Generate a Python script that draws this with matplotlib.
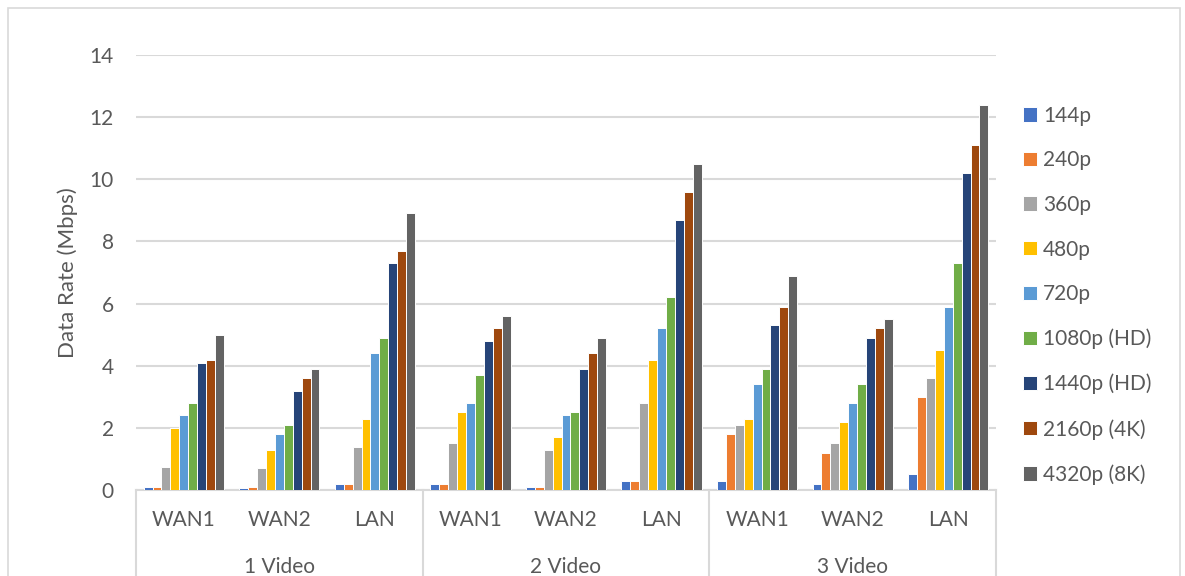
import numpy as np
import matplotlib.pyplot as plt
from matplotlib.patches import Rectangle
from matplotlib.lines import Line2D

plt.rcParams["font.family"] = ["Lato", "DejaVu Sans"]

# Category layout: three video counts, each measured over three links
videos = ["1 Video", "2 Video", "3 Video"]
links = ["WAN1", "WAN2", "LAN"]

resolutions = ["144p", "240p", "360p", "480p", "720p",
               "1080p (HD)", "1440p (HD)", "2160p (4K)", "4320p (8K)"]

# Data rate in Mbps per resolution, ordered as
# 1 Video WAN1, WAN2, LAN, 2 Video WAN1, WAN2, LAN, 3 Video WAN1, WAN2, LAN
rate_144p = [0.1, 0.08, 0.2, 0.2, 0.1, 0.3, 0.3, 0.2, 0.5]
rate_240p = [0.1, 0.09, 0.2, 0.2, 0.1, 0.3, 1.8, 1.2, 3.0]
rate_360p = [0.75, 0.7, 1.4, 1.5, 1.3, 2.8, 2.1, 1.5, 3.6]
rate_480p = [2.0, 1.3, 2.3, 2.5, 1.7, 4.2, 2.3, 2.2, 4.5]
rate_720p = [2.4, 1.8, 4.4, 2.8, 2.4, 5.2, 3.4, 2.8, 5.9]
rate_1080p = [2.8, 2.1, 4.9, 3.7, 2.5, 6.2, 3.9, 3.4, 7.3]
rate_1440p = [4.1, 3.2, 7.3, 4.8, 3.9, 8.7, 5.3, 4.9, 10.2]
rate_2160p = [4.2, 3.6, 7.7, 5.2, 4.4, 9.6, 5.9, 5.2, 11.1]
rate_4320p = [5.0, 3.9, 8.9, 5.6, 4.9, 10.5, 6.9, 5.5, 12.4]

series = [rate_144p, rate_240p, rate_360p, rate_480p, rate_720p,
          rate_1080p, rate_1440p, rate_2160p, rate_4320p]
colors = ["#4472C4", "#ED7D31", "#A5A5A5", "#FFC000", "#5B9BD5",
          "#70AD47", "#264478", "#9E480E", "#636363"]

text_color = "#595959"
grid_color = "#D9D9D9"
fs = 15

fig = plt.figure(figsize=(11.85, 5.76), dpi=100)
ax = fig.add_axes([136 / 1185, 1 - 490 / 576, 860 / 1185, 435 / 576])

# chart frame (runs off the bottom edge)
fig.patches.append(Rectangle((8 / 1185, -0.2), 1172 / 1185, 1.2 - 8 / 576,
                             transform=fig.transFigure, fill=False,
                             edgecolor=grid_color, linewidth=1.2))

n_cat = len(videos) * len(links)
x = np.arange(n_cat)
group_w = 0.84
slot = group_w / len(series)
for i, (vals, color, name) in enumerate(zip(series, colors, resolutions)):
    offs = -group_w / 2 + slot * (i + 0.5)
    ax.bar(x + offs, vals, width=slot, color=color, edgecolor="white",
           linewidth=0.7, label=name, zorder=3)

ax.set_xlim(-0.5, n_cat - 0.5)
ax.set_ylim(0, 14)
ax.set_yticks(np.arange(0, 15, 2))
ax.yaxis.grid(True, color=grid_color, linewidth=1.5, zorder=0)
ax.set_axisbelow(True)
ax.tick_params(axis="y", length=0, labelsize=fs, colors=text_color, pad=16)
ax.set_xticks([])
for side in ["top", "right", "left"]:
    ax.spines[side].set_visible(False)
ax.spines["bottom"].set_color(grid_color)
ax.spines["bottom"].set_linewidth(1.5)
ax.set_ylabel("Data Rate (Mbps)", fontsize=16, color=text_color, labelpad=8)

# two-level category axis
xt = ax.get_xaxis_transform()
for k in range(n_cat):
    ax.text(x[k], -0.069, links[k % len(links)], transform=xt, ha="center",
            va="center", fontsize=fs, color=text_color)
for g, name in enumerate(videos):
    ax.text(g * len(links) + 1, -0.177, name, transform=xt, ha="center",
            va="center", fontsize=fs, color=text_color)
for b in np.arange(len(videos) + 1) * len(links) - 0.5:
    ax.add_line(Line2D([b, b], [0, -0.3], transform=xt, color=grid_color,
                       linewidth=1.5, clip_on=False))

leg = ax.legend(loc="upper left", bbox_to_anchor=(1004 / 1185, 1 - 87 / 576),
                bbox_transform=fig.transFigure, frameon=False, fontsize=15,
                handlelength=0.68, handleheight=0.68, handletextpad=0.3,
                labelspacing=1.18, labelcolor=text_color)

fig.savefig("out.png", dpi=100)
